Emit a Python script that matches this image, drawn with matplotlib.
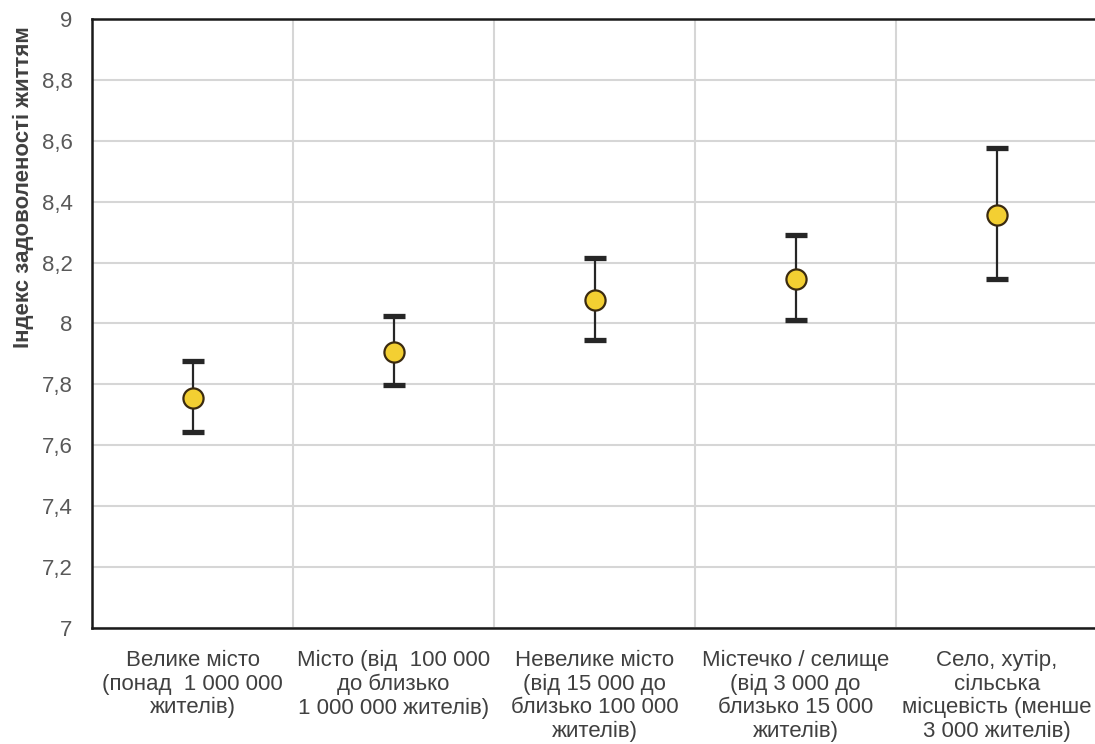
import matplotlib
matplotlib.use("Agg")
import matplotlib.pyplot as plt
import numpy as np

categories = [
    "Велике місто\n(понад  1 000 000\nжителів)",
    "Місто (від  100 000\nдо близько\n1 000 000 жителів)",
    "Невелике місто\n(від 15 000 до\nблизько 100 000\nжителів)",
    "Містечко / селище\n(від 3 000 до\nблизько 15 000\nжителів)",
    "Село, хутір,\nсільська\nмісцевість (менше\n3 000 жителів)",
]
means = [7.755, 7.905, 8.078, 8.147, 8.355]
lower = [7.645, 7.797, 7.945, 8.012, 8.147]
upper = [7.878, 8.025, 8.215, 8.290, 8.577]
yticks = [7.0, 7.2, 7.4, 7.6, 7.8, 8.0, 8.2, 8.4, 8.6, 8.8, 9.0]
ytick_labels = ["7", "7,2", "7,4", "7,6", "7,8", "8", "8,2", "8,4", "8,6", "8,8", "9"]
ylabel = "Індекс задоволеності життям"

plt.rcParams['font.family'] = ['Liberation Sans', 'DejaVu Sans']

fig = plt.figure(figsize=(10.95, 7.44), dpi=100)
ax = fig.add_axes([0.084, 0.156, 0.918, 0.8185])

x = np.arange(len(categories))
means_a = np.array(means)
yerr = np.vstack([means_a - np.array(lower), np.array(upper) - means_a])

ax.errorbar(x, means_a, yerr=yerr, fmt='none', ecolor='#262626', elinewidth=1.6,
            capsize=8, capthick=3.8, zorder=3)
ax.plot(x, means_a, 'o', markersize=14.5, markerfacecolor='#F3CF32',
        markeredgecolor='#3a2a10', markeredgewidth=1.6, zorder=4)

ax.set_xlim(-0.5, len(categories) - 0.5)
ax.set_ylim(7, 9)
ax.set_yticks(yticks)
ax.set_yticklabels(ytick_labels, fontsize=16, color='#595959')
ax.set_xticks(x)
ax.set_xticklabels(categories, fontsize=16, color='#404040', linespacing=1.15)
ax.set_xticks(np.arange(len(categories) + 1) - 0.5, minor=True)
ax.tick_params(axis='both', which='both', length=0)
ax.tick_params(axis='x', pad=16)
ax.tick_params(axis='y', pad=14)

ax.grid(True, axis='y', which='major', color='#d6d6d6', linewidth=1.5, zorder=0)
ax.grid(True, axis='x', which='minor', color='#d6d6d6', linewidth=1.5, zorder=0)
ax.grid(False, axis='x', which='major')
ax.set_axisbelow(True)

for s in ['left', 'bottom', 'top']:
    ax.spines[s].set_color('#1a1a1a')
    ax.spines[s].set_linewidth(1.8)
ax.spines['right'].set_visible(False)

ax.set_ylabel(ylabel, fontsize=16, fontweight='bold', color='#404040')
ax.yaxis.set_label_coords(-0.058, 0.724)

fig.savefig("out.png", dpi=100, facecolor='white')
